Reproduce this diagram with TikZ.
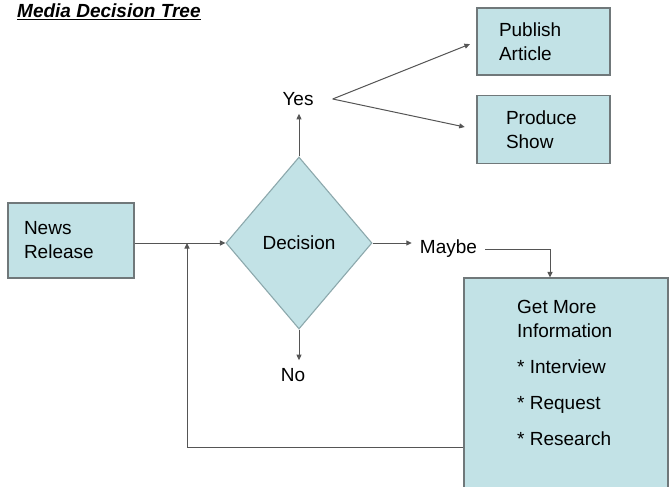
\documentclass[tikz,border=0pt]{standalone}
\usepackage{fontspec}
\setmainfont{Liberation Sans}
\usetikzlibrary{positioning,shapes.geometric,arrows.meta}
\definecolor{boxfill}{RGB}{194,226,230}
\definecolor{boxline}{RGB}{112,120,122}
\definecolor{dline}{RGB}{140,168,172}
\definecolor{arrline}{RGB}{85,85,85}
\tikzset{
    bnode/.style = {rectangle, draw=boxline, fill=boxfill, line width=1.1pt, align=left, font=\fontsize{19}{24}\selectfont},
    dnode/.style = {diamond, draw=dline, fill=boxfill, line width=1.1pt, aspect=0.85, minimum width=146pt, minimum height=172pt, inner sep=0pt, font=\fontsize{19}{24}\selectfont},
    lnode/.style = {inner sep=8pt, font=\fontsize{19}{24}\selectfont},
    arr/.style = {draw=arrline, line width=1pt, -{Triangle[length=5.5pt,width=5pt]}}
}

\begin{document}
\begin{tikzpicture}[x=1pt, y=-1pt]
\useasboundingbox (0,0) rectangle (670,487);
\node[anchor=base west, inner sep=0pt, font=\fontsize{19}{24}\selectfont\bfseries\itshape] (title) at (17,18) {\underline{Media Decision Tree}};
\node[bnode, text width=89pt, inner xsep=22pt, minimum height=67pt] (pub) at (543.5,41.5) {Publish\\Article};
\node[bnode, text width=75pt, inner xsep=29pt, minimum height=68pt] (prod) at (543.5,129.5) {Produce\\Show};
\node[bnode, text width=94pt, inner xsep=16pt, minimum height=75pt] (news) at (71,240.5) {News\\Release};
\node[dnode] (dec) at (299,243) {\raisebox{-3pt}{Decision}};
\node[lnode] (yes) at (298,99) {Yes};
\node[lnode] (no) at (293,375) {No};
\node[lnode] (maybe) at (448.5,249) {Maybe};
\node[bnode, minimum width=204pt, minimum height=214pt] (info) at (566,385) {};
\node[anchor=north west, align=left, inner sep=0pt, font=\fontsize{19}{24}\selectfont] (infotxt) at (517,300) {Get More\\Information\\[12pt]* Interview\\[12pt]* Request\\[12pt]* Research};
\coordinate[right=11pt of yes] (fan);
\coordinate (join) at (187,243);

\draw[arr] (news.east |- dec) -- (dec.west);
\draw[arr] (dec.north) -- (dec.north |- yes.south);
\draw[arr] (dec.south) -- (dec.south |- no.north);
\draw[arr] (dec.east) -- (dec.east -| maybe.west);
\draw[arr, shorten >=7pt] (fan) -- (pub.west);
\draw[arr, shorten >=12pt] (fan) -- (prod.west);
\draw[arr] (maybe.east) -| ([xshift=-16pt]info.north);
\draw[arr] ([yshift=-62pt]info.west) -| (join);
\end{tikzpicture}
\end{document}
